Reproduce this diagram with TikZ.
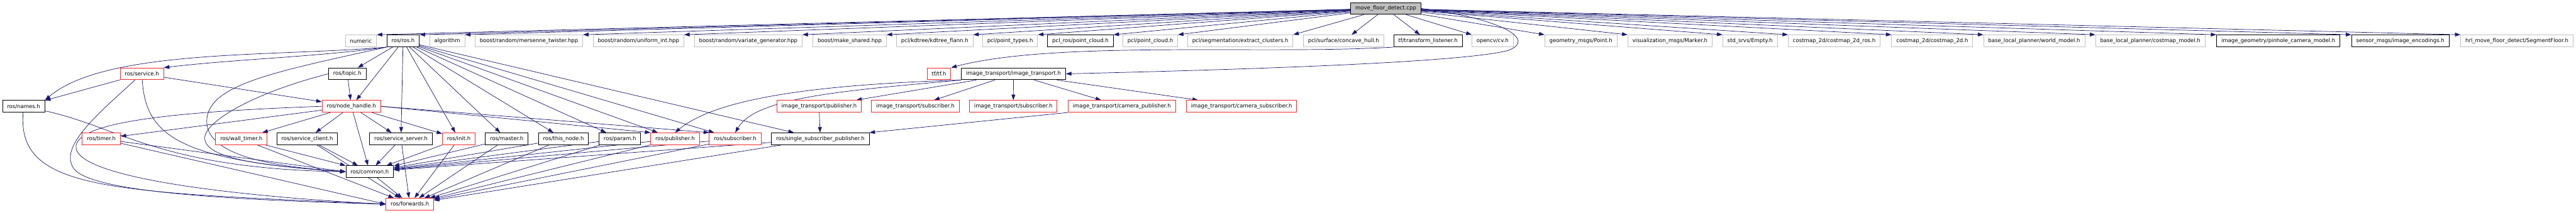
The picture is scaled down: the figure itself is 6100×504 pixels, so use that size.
\documentclass[tikz,border=0pt]{standalone}
\usepackage{fontspec}
\setmainfont{DejaVu Sans}
\definecolor{edgeblue}{RGB}{25,25,112}
\definecolor{cutred}{RGB}{240,40,40}
\definecolor{extgray}{RGB}{191,191,191}
\definecolor{rootgray}{RGB}{191,191,191}
\usetikzlibrary{arrows.meta, backgrounds}

\begin{document}
\begin{tikzpicture}[
  x=0.01cm, y=-0.01cm,
  hfile/.style={rectangle, font=\fontsize{3.6}{4.3}\selectfont, inner xsep=0.11cm, inner ysep=0pt, minimum height=0.28cm, line width=0.4pt, fill=white},
  rootfile/.style={hfile, draw=black, fill=rootgray},
  docfile/.style={hfile, draw=black},
  cutfile/.style={hfile, draw=cutred},
  extfile/.style={hfile, draw=extgray},
  incl/.style={-{Triangle[length=0.13cm,width=0.09cm]}, edgeblue, line width=0.3pt}
]
  \useasboundingbox (0,0) rectangle (6100,504);

  \node[rootfile] (root) at (3281.5,20) {move\_floor\_detect.cpp};

  % first row
  \node[extfile] (numeric) at (854.5,97) {numeric};
  \node[docfile] (rosros) at (954.5,97) {ros/ros.h};
  \node[extfile] (algorithm) at (1059,97) {algorithm};
  \node[extfile] (mersenne) at (1252.5,97) {boost/random/mersenne\_twister.hpp};
  \node[extfile] (uniformint) at (1512,97) {boost/random/uniform\_int.hpp};
  \node[extfile] (variategen) at (1772,97) {boost/random/variate\_generator.hpp};
  \node[extfile] (makeshared) at (2012,97) {boost/make\_shared.hpp};
  \node[extfile] (kdtree) at (2213.5,97) {pcl/kdtree/kdtree\_flann.h};
  \node[extfile] (pointtypes) at (2392,97) {pcl/point\_types.h};
  \node[docfile] (pclroscloud) at (2558.5,97) {pcl\_ros/point\_cloud.h};
  \node[extfile] (pointcloud) at (2724,97) {pcl/point\_cloud.h};
  \node[extfile] (extractclusters) at (2937,97) {pcl/segmentation/extract\_clusters.h};
  \node[extfile] (concavehull) at (3181.5,97) {pcl/surface/concave\_hull.h};
  \node[docfile] (tflistener) at (3381.5,97) {tf/transform\_listener.h};
  \node[extfile] (opencv) at (3534.5,97) {opencv/cv.h};
  \node[extfile] (geompoint) at (3743.5,97) {geometry\_msgs/Point.h};
  \node[extfile] (vismarker) at (3954.5,97) {visualization\_msgs/Marker.h};
  \node[extfile] (stdempty) at (4144,97) {std\_srvs/Empty.h};
  \node[extfile] (costmapros) at (4343.5,97) {costmap\_2d/costmap\_2d\_ros.h};
  \node[extfile] (costmap) at (4575.5,97) {costmap\_2d/costmap\_2d.h};
  \node[extfile] (worldmodel) at (4817,97) {base\_local\_planner/world\_model.h};
  \node[extfile] (costmapmodel) at (5092,97) {base\_local\_planner/costmap\_model.h};
  \node[docfile] (pinhole) at (5395,97) {image\_geometry/pinhole\_camera\_model.h};
  \node[docfile] (imgenc) at (5684,97) {sensor\_msgs/image\_encodings.h};
  \node[extfile] (segfloor) at (5960,97) {hrl\_move\_floor\_detect/SegmentFloor.h};

  % second row
  \node[cutfile] (rosservice) at (336,175) {ros/service.h};
  \node[docfile] (rostopic) at (822.5,175) {ros/topic.h};
  \node[cutfile] (tftf) at (2223.5,175) {tf/tf.h};
  \node[docfile] (itrans) at (2400,175) {image\_transport/image\_transport.h};

  % third row
  \node[docfile] (rosnames) at (56,252) {ros/names.h};
  \node[cutfile] (nodehandle) at (832,252) {ros/node\_handle.h};
  \node[cutfile] (itpub) at (1939.5,252) {image\_transport/publisher.h};
  \node[cutfile] (itsuba) at (2167.5,252) {image\_transport/subscriber.h};
  \node[cutfile] (itsubb) at (2399.5,252) {image\_transport/subscriber.h};
  \node[cutfile] (itcampub) at (2656.5,252) {image\_transport/camera\_publisher.h};
  \node[cutfile] (itcamsub) at (2940,252) {image\_transport/camera\_subscriber.h};

  % fourth row
  \node[cutfile] (rostimer) at (240,329) {ros/timer.h};
  \node[cutfile] (walltimer) at (571.5,329) {ros/wall\_timer.h};
  \node[docfile] (srvclient) at (727.5,329) {ros/service\_client.h};
  \node[docfile] (srvserver) at (949.5,329) {ros/service\_server.h};
  \node[cutfile] (rosinit) at (1086.5,329) {ros/init.h};
  \node[docfile] (rosmaster) at (1200,329) {ros/master.h};
  \node[docfile] (thisnode) at (1334.5,329) {ros/this\_node.h};
  \node[docfile] (rosparam) at (1468,329) {ros/param.h};
  \node[cutfile] (rospub) at (1598.5,329) {ros/publisher.h};
  \node[cutfile] (rossub) at (1741,329) {ros/subscriber.h};
  \node[docfile] (singlepub) at (1942.5,329) {ros/single\_subscriber\_publisher.h};

  \node[docfile] (roscommon) at (875.5,407) {ros/common.h};
  \node[cutfile] (rosforwards) at (970.5,484) {ros/forwards.h};

  \begin{scope}[on background layer]
  % includes of the source file
  \draw[incl] (root) -- (numeric.north east);
  \draw[incl] (root) -- (rosros.north east);
  \draw[incl] (root) -- (algorithm.north east);
  \draw[incl] (root) -- (mersenne.north east);
  \draw[incl] (root) -- (uniformint.north east);
  \draw[incl] (root) -- (variategen.north east);
  \draw[incl] (root) -- (makeshared.north east);
  \draw[incl] (root) -- (kdtree.north east);
  \draw[incl] (root) -- (pointtypes.north east);
  \draw[incl] (root) -- (pclroscloud.north east);
  \draw[incl] (root) -- (pointcloud.north east);
  \draw[incl] (root) -- (extractclusters.north east);
  \draw[incl] (root) -- (concavehull);
  \draw[incl] (root) -- (tflistener);
  \draw[incl] (root) -- (opencv.north west);
  \draw[incl] (root) -- (geompoint.north west);
  \draw[incl] (root) -- (vismarker.north west);
  \draw[incl] (root) -- (stdempty.north west);
  \draw[incl] (root) -- (costmapros.north west);
  \draw[incl] (root) -- (costmap.north west);
  \draw[incl] (root) -- (worldmodel.north west);
  \draw[incl] (root) -- (costmapmodel.north west);
  \draw[incl] (root) -- (pinhole.north west);
  \draw[incl] (root) -- (imgenc.north west);
  \draw[incl] (root) -- (segfloor.north west);
  \draw[incl] (root.east) .. controls (3560,45) and (3640,95) .. (3570,120)
    .. controls (3450,150) and (2900,166) .. (itrans.east);
  \draw[incl] (tflistener.south west) .. controls (3000,130) and (2500,95) .. (tftf.north east);

  % ros/ros.h
  \draw[incl] (rosros.south west) .. controls (650,135) and (250,115) .. (rosnames.north east);
  \draw[incl] (rosros.south west) .. controls (750,135) and (560,140) .. (rosservice.north east);
  \draw[incl] (rosros.south west) .. controls (650,170) and (500,200) .. (490,280)
    .. controls (480,370) and (650,395) .. (roscommon.west);
  \draw[incl] (rosros) -- (rostopic);
  \draw[incl] (rosros) -- (nodehandle);
  \draw[incl] (rosros) -- (srvserver);
  \draw[incl] (rosros) -- (rosinit);
  \draw[incl] (rosros) -- (rosmaster);
  \draw[incl] (rosros) -- (thisnode);
  \draw[incl] (rosros) -- (rosparam);
  \draw[incl] (rosros) -- (rospub);
  \draw[incl] (rosros) -- (rossub);
  \draw[incl] (rosros) -- (singlepub);

  % ros/service.h and ros/topic.h
  \draw[incl] (rosservice) -- (rosnames);
  \draw[incl] (rosservice) -- (nodehandle);
  \draw[incl] (rosservice) .. controls (345,320) and (420,380) .. (roscommon.west);
  \draw[incl] (rosservice) .. controls (220,280) and (140,350) .. (175,400)
    .. controls (220,460) and (600,475) .. (rosforwards.west);
  \draw[incl] (rostopic) -- (nodehandle);
  \draw[incl] (rostopic.west) .. controls (600,220) and (480,290) .. (485,330)
    .. controls (490,380) and (650,395) .. (roscommon.west);

  % ros/names.h
  \draw[incl] (rosnames) .. controls (280,300) and (380,400) .. (roscommon.west);
  \draw[incl] (rosnames) .. controls (40,450) and (250,455) .. (rosforwards.west);

  % ros/node_handle.h
  \draw[incl] (nodehandle) -- (rostimer);
  \draw[incl] (nodehandle) -- (walltimer);
  \draw[incl] (nodehandle) -- (srvclient);
  \draw[incl] (nodehandle) -- (srvserver);
  \draw[incl] (nodehandle) -- (roscommon);
  \draw[incl] (nodehandle) -- (rosinit);
  \draw[incl] (nodehandle.east) -- (rospub.north west);
  \draw[incl] (nodehandle.east) -- (rossub.north west);
  \draw[incl] (nodehandle.west) .. controls (400,265) and (190,290) .. (180,345)
    .. controls (170,420) and (550,465) .. (rosforwards.west);

  % fourth row down to common and forwards
  \draw[incl] (rostimer) -- (roscommon.west);
  \draw[incl] (rostimer) -- (rosforwards.west);
  \draw[incl] (walltimer) -- (roscommon);
  \draw[incl] (walltimer) -- (rosforwards);
  \draw[incl] (srvclient) -- (roscommon);
  \draw[incl] (srvclient) -- (rosforwards);
  \draw[incl] (srvserver) -- (roscommon);
  \draw[incl] (srvserver) -- (rosforwards);
  \draw[incl] (rosinit) -- (roscommon);
  \draw[incl] (rosinit) -- (rosforwards);
  \draw[incl] (rosmaster) -- (roscommon);
  \draw[incl] (rosmaster) -- (rosforwards);
  \draw[incl] (thisnode) -- (roscommon);
  \draw[incl] (thisnode) -- (rosforwards);
  \draw[incl] (rosparam) -- (roscommon);
  \draw[incl] (rosparam) -- (rosforwards);
  \draw[incl] (rospub) -- (roscommon);
  \draw[incl] (rospub) -- (rosforwards);
  \draw[incl] (rossub) -- (roscommon);
  \draw[incl] (rossub) -- (rosforwards);
  \draw[incl] (singlepub) -- (roscommon);
  \draw[incl] (singlepub) -- (rosforwards);
  \draw[incl] (roscommon) -- (rosforwards);

  % image_transport
  \draw[incl] (itrans.south west) .. controls (1950,200) and (1700,230) .. (rospub.north);
  \draw[incl] (itrans.south west) .. controls (2000,215) and (1790,230) .. (rossub.north);
  \draw[incl] (itrans) -- (itpub);
  \draw[incl] (itrans) -- (itsuba);
  \draw[incl] (itrans) -- (itsubb);
  \draw[incl] (itrans) -- (itcampub);
  \draw[incl] (itrans) -- (itcamsub);
  \draw[incl] (itpub) -- (singlepub);
  \draw[incl] (itcampub.south west) -- (singlepub.north east);
  \end{scope}
\end{tikzpicture}
\end{document}
